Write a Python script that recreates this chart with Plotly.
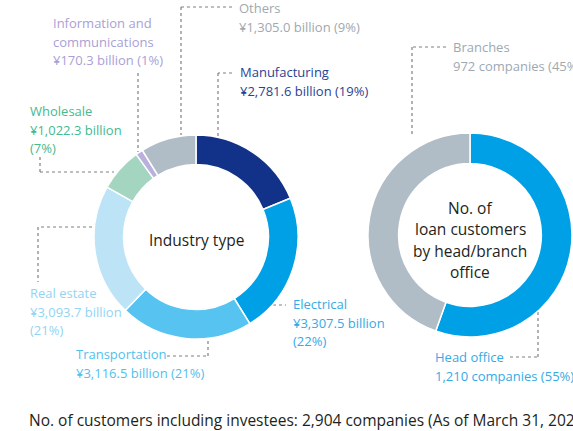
import plotly.graph_objects as go

W, H = 573, 431

# ---- data ----
industry_labels = ["Manufacturing", "Electrical", "Transportation", "Real estate",
                   "Wholesale", "Information and communications", "Others"]
industry_values = [2781.6, 3307.5, 3116.5, 3093.7, 1022.3, 170.3, 1305.0]
industry_pct = [19, 22, 21, 21, 7, 1, 9]
industry_colors = ["#12328a", "#00a0e6", "#56c3f0", "#bde3f7", "#a3d5c0", "#b9b0de", "#b1bdc6"]

office_labels = ["Head office", "Branches"]
office_values = [1210, 972]
office_pct = [55, 45]
office_colors = ["#00a0e6", "#b1bdc6"]

total_customers = 2904


def px(x):
    return x / W


def py(y):
    return 1 - y / H


fig = go.Figure()

fig.add_trace(go.Pie(
    labels=industry_labels, values=industry_values,
    marker=dict(colors=industry_colors, line=dict(color="white", width=1.5)),
    hole=0.71, sort=False, direction="clockwise", rotation=0,
    textinfo="none", hoverinfo="label+value+percent", showlegend=False,
    domain=dict(x=[px(94), px(298)], y=[py(339), py(135)]),
))

fig.add_trace(go.Pie(
    labels=office_labels, values=office_values,
    marker=dict(colors=office_colors, line=dict(color="white", width=1.5)),
    hole=0.70, sort=False, direction="clockwise", rotation=0,
    textinfo="none", hoverinfo="label+value+percent", showlegend=False,
    domain=dict(x=[px(368), px(572)], y=[py(337), py(133)]),
))

FONT = "Open Sans"
annos = []


def label(x, y, lines, color, size=13, gap=18.7):
    for i, t in enumerate(lines):
        annos.append(dict(x=px(x), y=py(y + i * gap), xref="paper", yref="paper",
                          text=t, showarrow=False, xanchor="left", yanchor="middle",
                          font=dict(family=FONT, size=size, color=color)))


label(237, 8, ["Others", f"¥{industry_values[6]:,.1f} billion ({industry_pct[6]}%)"], "#9ea9b1")
label(51, 23, ["Information and", "communications",
               f"¥{industry_values[5]:,.1f} billion ({industry_pct[5]}%)"], "#a99fd6")
label(238, 72, ["Manufacturing", f"¥{industry_values[0]:,.1f} billion ({industry_pct[0]}%)"], "#2a3f95")
label(28, 111, ["Wholesale", f"¥{industry_values[4]:,.1f} billion", f"({industry_pct[4]}%)"], "#45b98f")
label(28, 293, ["Real estate", f"¥{industry_values[3]:,.1f} billion", f"({industry_pct[3]}%)"], "#93d4f2")
label(74, 354, ["Transportation", f"¥{industry_values[2]:,.1f} billion ({industry_pct[2]}%)"], "#4fc1ee")
label(291, 304, ["Electrical", f"¥{industry_values[1]:,.1f} billion", f"({industry_pct[1]}%)"], "#33abe6")
label(451, 47, ["Branches", f"{office_values[1]:,} companies ({office_pct[1]}%)"], "#9ea9b1")
label(433, 357, ["Head office", f"{office_values[0]:,} companies ({office_pct[0]}%)"], "#33abe6")

# centre texts
annos.append(dict(x=px(196), y=py(240), xref="paper", yref="paper", text="Industry type",
                  showarrow=False, xanchor="center", yanchor="middle",
                  font=dict(family=FONT, size=15.5, color="#231f20")))
for i, t in enumerate(["No. of", "loan customers", "by head/branch", "office"]):
    annos.append(dict(x=px(470), y=py(208 + i * 21.3), xref="paper", yref="paper", text=t,
                      showarrow=False, xanchor="center", yanchor="middle",
                      font=dict(family=FONT, size=15.5, color="#231f20")))

annos.append(dict(x=px(27), y=py(420), xref="paper", yref="paper",
                  text=f"No. of customers including investees: {total_customers:,} companies (As of March 31, 2024)",
                  showarrow=False, xanchor="left", yanchor="middle",
                  font=dict(family=FONT, size=15.5, color="#231f20")))

# leader lines (dotted)
leaders = [
    [(232, 7), (181, 7), (181, 135)],          # Others
    [(138, 73), (138, 152)],                   # Info & comms
    [(232, 73), (218, 73), (218, 137)],        # Manufacturing
    [(40, 157), (40, 172), (114, 172)],        # Wholesale
    [(92, 227), (38, 227), (38, 282)],         # Real estate
    [(167, 356), (208, 356), (208, 339)],      # Transportation
    [(273, 305), (286, 305)],                  # Electrical
    [(446, 47), (412, 47), (412, 136)],        # Branches
    [(510, 357), (538, 357), (538, 308)],      # Head office
]
shapes = []
for pts in leaders:
    for (x0, y0), (x1, y1) in zip(pts[:-1], pts[1:]):
        shapes.append(dict(type="line", xref="paper", yref="paper",
                           x0=px(x0), y0=py(y0), x1=px(x1), y1=py(y1),
                           line=dict(color="#808080", width=1.2, dash="dot"),
                           layer="below"))

fig.update_layout(
    width=W, height=H, margin=dict(l=0, r=0, t=0, b=0),
    paper_bgcolor="white", plot_bgcolor="white",
    annotations=annos, shapes=shapes, showlegend=False,
)

fig.write_html("out.html", config={"displayModeBar": False},
               post_script="document.body.style.margin='0';")
